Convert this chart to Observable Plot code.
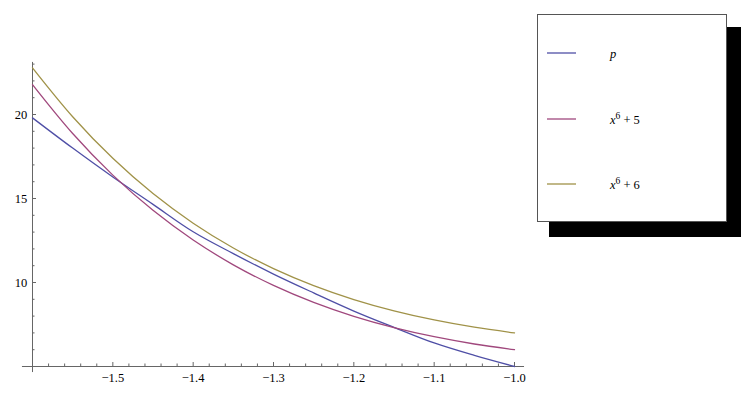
<!DOCTYPE html>
<html><head><meta charset="utf-8">
<script src="https://cdn.jsdelivr.net/npm/d3@7"></script>
<script src="https://cdn.jsdelivr.net/npm/@observablehq/plot@0.6"></script>
<style>body{margin:0;background:#fff;} #chart svg{overflow:visible}</style>
</head><body><div id="chart"></div>
<script>
const xs = [-1.6, -1.55, -1.5, -1.45, -1.4, -1.35, -1.3, -1.25, -1.2, -1.15, -1.1, -1.05, -1.0];
const pValues = [19.8, 18.0, 16.28, 14.65, 13.02, 11.72, 10.5, 9.38, 8.3, 7.33, 6.4, 5.66, 5.0];
const sextic5 = [21.777, 18.867, 16.391, 14.294, 12.530, 11.053, 9.827, 8.815, 7.986, 7.313, 6.772, 6.340, 6.0];
const sextic6 = [22.777, 19.867, 17.391, 15.294, 13.530, 12.053, 10.827, 9.815, 8.986, 8.313, 7.772, 7.340, 7.0];
const seriesNames = ["p", "x^6 + 5", "x^6 + 6"];
const seriesColors = ["#4f4fa6", "#a0487d", "#a09248"];
const xMajor = [-1.5, -1.4, -1.3, -1.2, -1.1, -1.0];
const xMinor = [-1.58,-1.56,-1.54,-1.52,-1.48,-1.46,-1.44,-1.42,-1.38,-1.36,-1.34,-1.32,-1.28,-1.26,-1.24,-1.22,-1.18,-1.16,-1.14,-1.12,-1.08,-1.06,-1.04,-1.02];
const yMajor = [10, 15, 20];
const yMinor = [6,7,8,9,11,12,13,14,16,17,18,19,21,22,23];

const data = [];
xs.forEach((x, i) => {
  data.push({x, y: pValues[i], s: seriesNames[0]});
  data.push({x, y: sextic5[i], s: seriesNames[1]});
  data.push({x, y: sextic6[i], s: seriesNames[2]});
});

const axisColor = "#666";
const noText = () => "";
const fmtX = d => (d < 0 ? "\u2212" : "") + Math.abs(d).toFixed(1);

const chart = Plot.plot({
  width: 756, height: 401,
  marginLeft: 32, marginRight: 242, marginTop: 63.6, marginBottom: 35,
  x: {domain: [-1.6, -1.0], label: null},
  y: {domain: [5, 23], label: null},
  color: {domain: seriesNames, range: seriesColors},
  style: {fontFamily: "'Liberation Serif', 'DejaVu Serif', serif", fontSize: "12.5px", background: "white", color: "black"},
  marks: [
    Plot.ruleY([5], {x1: -1.6125, x2: -0.9875, stroke: axisColor}),
    Plot.ruleX([-1.6], {y1: 4.64, y2: 23.1, stroke: axisColor}),
    Plot.axisX({ticks: xMinor, tickSize: -2.5, tickFormat: noText, label: null, stroke: axisColor}),
    Plot.axisX({ticks: xMajor, tickSize: -4, tickFormat: noText, label: null, stroke: axisColor}),
    Plot.axisX({ticks: xMajor, tickSize: 0, tickPadding: 6.5, tickFormat: fmtX, label: null, fill: "black"}),
    Plot.axisY({ticks: yMinor, tickSize: -2.5, tickFormat: noText, label: null, stroke: axisColor}),
    Plot.axisY({ticks: yMajor, tickSize: -4, tickFormat: noText, label: null, stroke: axisColor}),
    Plot.axisY({ticks: yMajor, tickSize: 0, tickPadding: 5.3, label: null, fill: "black"}),
    Plot.line(data, {x: "x", y: "y", z: "s", stroke: "s", curve: "catmull-rom", strokeWidth: 1.3})
  ]
});
document.getElementById("chart").appendChild(chart);

// Legend (Mathematica-style boxed legend with drop shadow)
const svg = d3.select(chart);
const lg = svg.append("g").attr("font-family", "'Liberation Serif', 'DejaVu Serif', serif").attr("font-size", 12.5).attr("text-anchor", "start");
lg.append("rect").attr("x", 549).attr("y", 27).attr("width", 192).attr("height", 210).attr("fill", "black");
lg.append("rect").attr("x", 537.5).attr("y", 14.5).attr("width", 189).attr("height", 207).attr("fill", "white").attr("stroke", "#555");
const rowY = [53, 119, 184];
seriesNames.forEach((name, i) => {
  lg.append("line").attr("x1", 547).attr("x2", 576).attr("y1", rowY[i]).attr("y2", rowY[i])
    .attr("stroke", seriesColors[i]).attr("stroke-width", 1.3);
  const t = lg.append("text").attr("x", 610).attr("y", rowY[i] + 5).attr("text-anchor", "start");
  if (name === "p") {
    t.append("tspan").attr("font-style", "italic").text("p");
  } else {
    const parts = name.split("^");
    const rest = parts[1].split(" ");
    t.append("tspan").attr("font-style", "italic").text(parts[0]);
    t.append("tspan").attr("dy", -5).attr("font-size", 9.5).text(rest[0]);
    t.append("tspan").attr("dy", 5).text(" " + rest.slice(1).join(" "));
  }
});
</script>
</body></html>
